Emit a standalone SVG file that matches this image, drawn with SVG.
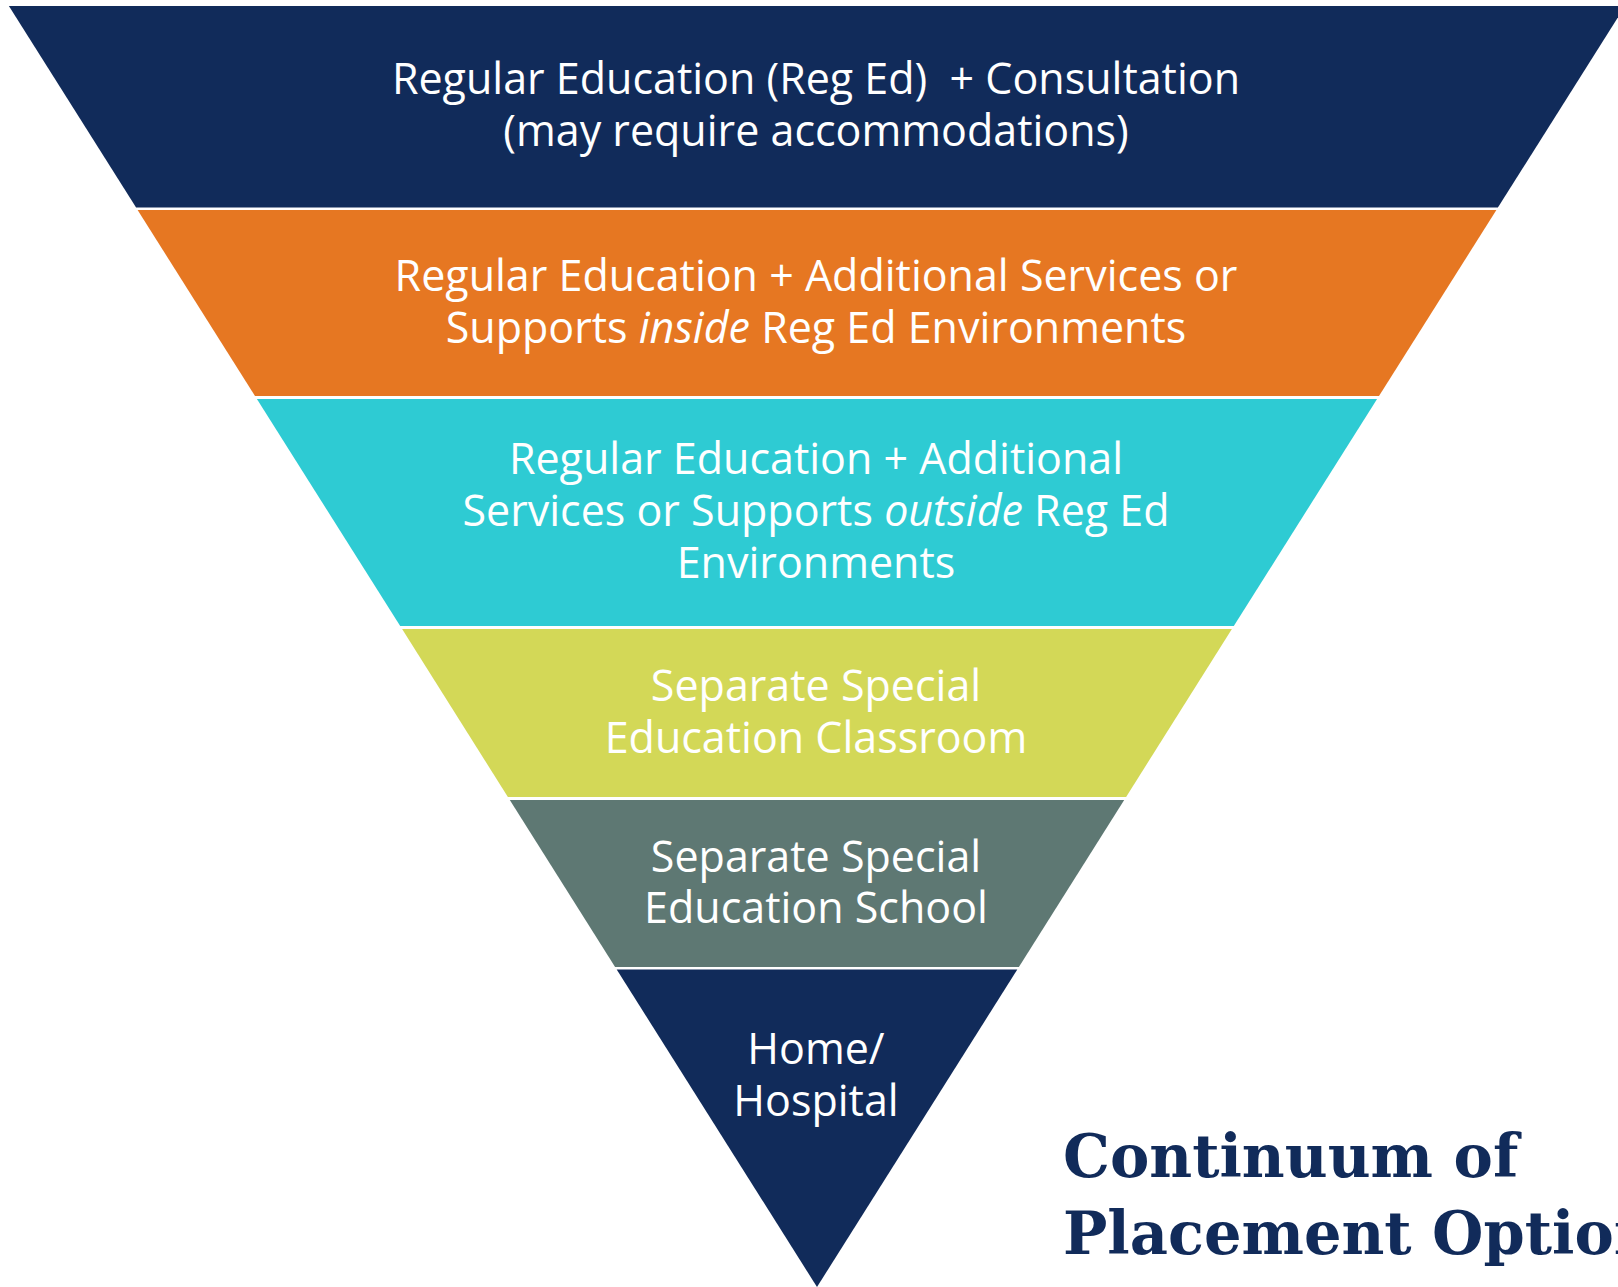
<svg xmlns="http://www.w3.org/2000/svg" width="1618" height="1287" viewBox="0 0 1618 1287">
<style>
.lbl{font-family:"Open Sans","Noto Sans","Liberation Sans",sans-serif;font-size:43px;fill:#ffffff;text-anchor:middle;white-space:pre}
.it{font-style:italic}
.title{font-family:"DejaVu Serif","Liberation Serif",serif;font-weight:bold;font-size:59px;fill:#112b5a}
</style>
<rect width="1618" height="1287" fill="#ffffff"/>
<g id="band1">
<polygon points="8.9,6 1625.1,6 1497.9,207.5 136.1,207.5" fill="#112b5a"/>
<text class="lbl" x="816" y="94" xml:space="preserve">Regular Education (Reg Ed)  + Consultation</text>
<text class="lbl" x="816" y="146">(may require accommodations)</text>
</g>
<g id="band2">
<polygon points="137.6,210 1496.4,210 1379,396 255,396" fill="#e67722"/>
<text class="lbl" x="816" y="291">Regular Education + Additional Services or</text>
<text class="lbl" x="816" y="343">Supports <tspan class="it">inside</tspan> Reg Ed Environments</text>
</g>
<g id="band3">
<polygon points="256.9,399 1377.1,399 1233.8,626 400.2,626" fill="#2ecbd3"/>
<text class="lbl" x="816" y="474">Regular Education + Additional</text>
<text class="lbl" x="816" y="526">Services or Supports <tspan class="it">outside</tspan> Reg Ed</text>
<text class="lbl" x="816" y="578">Environments</text>
</g>
<g id="band4">
<polygon points="402.1,629 1231.9,629 1126.1,797 507.9,797" fill="#d3d857"/>
<text class="lbl" x="816" y="701">Separate Special</text>
<text class="lbl" x="816" y="753">Education Classroom</text>
</g>
<g id="band5">
<polygon points="509.8,800 1124.2,800 1018.9,967 615.1,967" fill="#5e7873"/>
<text class="lbl" x="816" y="872">Separate Special</text>
<text class="lbl" x="816" y="923">Education School</text>
</g>
<g id="band6">
<polygon points="616.7,969.5 1017.3,969.5 817,1287" fill="#112b5a"/>
<text class="lbl" x="816" y="1064">Home/</text>
<text class="lbl" x="816" y="1116">Hospital</text>
</g>
<g id="connectors"></g>
<g id="title">
<text class="title" x="1063" y="1177">Continuum of</text>
<text class="title" x="1063" y="1254">Placement Options</text>
</g>
</svg>
